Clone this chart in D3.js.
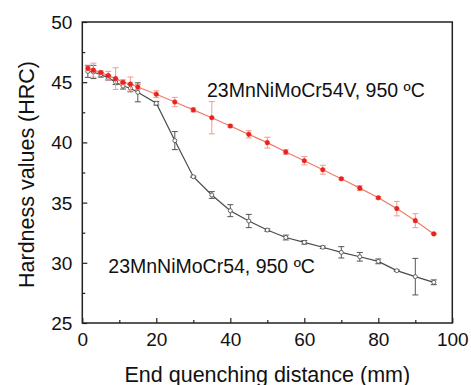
<!DOCTYPE html>
<html>
<head>
<meta charset="utf-8">
<script src="https://cdn.jsdelivr.net/npm/d3@7"></script>
<style>
  body { margin: 0; background: #fff; }
  svg { display: block; font-family: "Liberation Sans", Arial, sans-serif; }
</style>
</head>
<body>
<svg id="chart"></svg>
<script>
// Jominy end quench data
const distances = [1.5, 3, 5, 7, 9, 11, 13, 15, 20, 25, 30, 35, 40, 45, 50, 55, 60, 65, 70, 75, 80, 85, 90, 95];

const hardV = [46.15, 46.0, 45.8, 45.55, 45.3, 45.0, 44.85, 44.6, 44.0, 43.35, 42.7, 42.05,
               41.36, 40.67, 39.98, 39.2, 38.48, 37.73, 36.98, 36.2, 35.4, 34.5, 33.5, 32.4];
const errV  = [0.2, 0.58, 0.15, 0.35, 0.9, 0.2, 0.58, 0.2, 0.28, 0.39, 0.17, 1.34,
               0.1, 0.3, 0.45, 0.2, 0.35, 0.37, 0.1, 0.2, 0.1, 0.6, 0.58, 0.05];

const hardS = [45.9, 45.85, 45.62, 45.38, 45.0, 44.68, 44.5, 44.16, 43.25, 40.15, 37.15, 35.63,
               34.33, 33.47, 32.72, 32.1, 31.7, 31.29, 30.87, 30.5, 30.12, 29.35, 28.85, 28.38];
const errS  = [0.5, 0.55, 0.2, 0.2, 0.2, 0.25, 0.3, 0.79, 0.15, 0.75, 0.05, 0.28,
               0.5, 0.55, 0.1, 0.2, 0.15, 0.1, 0.47, 0.36, 0.2, 0.05, 1.52, 0.2];

const xTicks = [0, 20, 40, 60, 80, 100];
const yTicks = [25, 30, 35, 40, 45, 50];

const width = 471, height = 385;
const svg = d3.select("#chart").attr("width", width).attr("height", height);

const x = d3.scaleLinear().domain([0, 100]).range([82.3, 452.3]);
const y = d3.scaleLinear().domain([25, 50]).range([323, 22]);

const series = [
  { name: "23MnNiMoCr54, 950 ºC", vals: hardS, errs: errS,
    line: "#4a4a4a", bar: "#555", marker: "open" },
  { name: "23MnNiMoCr54V, 950 ºC", vals: hardV, errs: errV,
    line: "#f27a68", bar: "#f49a8a", marker: "filled" }
];

const line = d3.line().x(d => x(d[0])).y(d => y(d[1]));

series.forEach(s => {
  const pts = distances.map((d, i) => [d, s.vals[i], s.errs[i]]);
  const g = svg.append("g");

  // error bars
  const eb = g.selectAll("g.err").data(pts).join("g").attr("class", "err")
    .attr("stroke", s.bar).attr("stroke-width", 1);
  eb.append("line")
    .attr("x1", d => x(d[0])).attr("x2", d => x(d[0]))
    .attr("y1", d => y(d[1] - d[2])).attr("y2", d => y(d[1] + d[2]));
  eb.append("line")
    .attr("x1", d => x(d[0]) - 3).attr("x2", d => x(d[0]) + 3)
    .attr("y1", d => y(d[1] + d[2])).attr("y2", d => y(d[1] + d[2]));
  eb.append("line")
    .attr("x1", d => x(d[0]) - 3).attr("x2", d => x(d[0]) + 3)
    .attr("y1", d => y(d[1] - d[2])).attr("y2", d => y(d[1] - d[2]));

  g.append("path").datum(pts)
    .attr("d", line)
    .attr("fill", "none")
    .attr("stroke", s.line)
    .attr("stroke-width", 1.2);

  g.selectAll("circle").data(pts).join("circle")
    .attr("cx", d => x(d[0])).attr("cy", d => y(d[1]))
    .attr("r", s.marker === "open" ? 2 : 2.3)
    .attr("fill", s.marker === "open" ? "#fff" : "#e8221e")
    .attr("stroke", s.marker === "open" ? "#555" : "#e8221e")
    .attr("stroke-width", s.marker === "open" ? 0.9 : 0.5);
});

// Axes (ticks inward)
const xAxis = d3.axisBottom(x).tickValues(d3.range(0, 101, 10))
  .tickSize(-5).tickPadding(10).tickFormat(d => xTicks.includes(d) ? d : "");
const yAxis = d3.axisLeft(y).tickValues(d3.range(25, 50.1, 2.5))
  .tickSize(-5).tickPadding(10).tickFormat(d => yTicks.includes(d) ? d : "");

const gx = svg.append("g").attr("transform", `translate(0,${y(25)})`).call(xAxis);
const gy = svg.append("g").attr("transform", `translate(${x(0)},0)`).call(yAxis);

[gx, gy].forEach(g => {
  g.select(".domain").remove();
  g.selectAll("text").attr("font-size", 19).attr("fill", "#111").attr("font-family", "Liberation Sans, Arial, sans-serif");
  g.selectAll(".tick line").attr("stroke", "#222").attr("stroke-width", 1.2);
});
gx.selectAll(".tick").filter(d => !xTicks.includes(d)).select("line").attr("y2", -3);
gy.selectAll(".tick").filter(d => !yTicks.includes(d)).select("line").attr("x2", 3);
gx.selectAll("text").attr("dy", "0.71em");
gy.selectAll("text").attr("dy", "0.34em");

// Frame
svg.append("rect")
  .attr("x", x(0)).attr("y", y(50))
  .attr("width", x(100) - x(0)).attr("height", y(25) - y(50))
  .attr("fill", "none").attr("stroke", "#222").attr("stroke-width", 1.5);

// Axis titles
svg.append("text")
  .attr("x", (x(0) + x(100)) / 2).attr("y", 382)
  .attr("text-anchor", "middle").attr("font-size", 21.5).attr("fill", "#111")
  .text("End quenching distance (mm)");

svg.append("text")
  .attr("transform", `translate(34,${(y(25) + y(50)) / 2 + 2}) rotate(-90)`)
  .attr("text-anchor", "middle").attr("font-size", 21.5).attr("fill", "#111")
  .text("Hardness values (HRC)");

// Series labels
svg.append("text").attr("x", 207).attr("y", 97.3)
  .attr("font-size", 19.5).attr("fill", "#111").text(series[1].name);
svg.append("text").attr("x", 108.3).attr("y", 273.3)
  .attr("font-size", 19.5).attr("fill", "#111").text(series[0].name);
</script>
</body>
</html>
